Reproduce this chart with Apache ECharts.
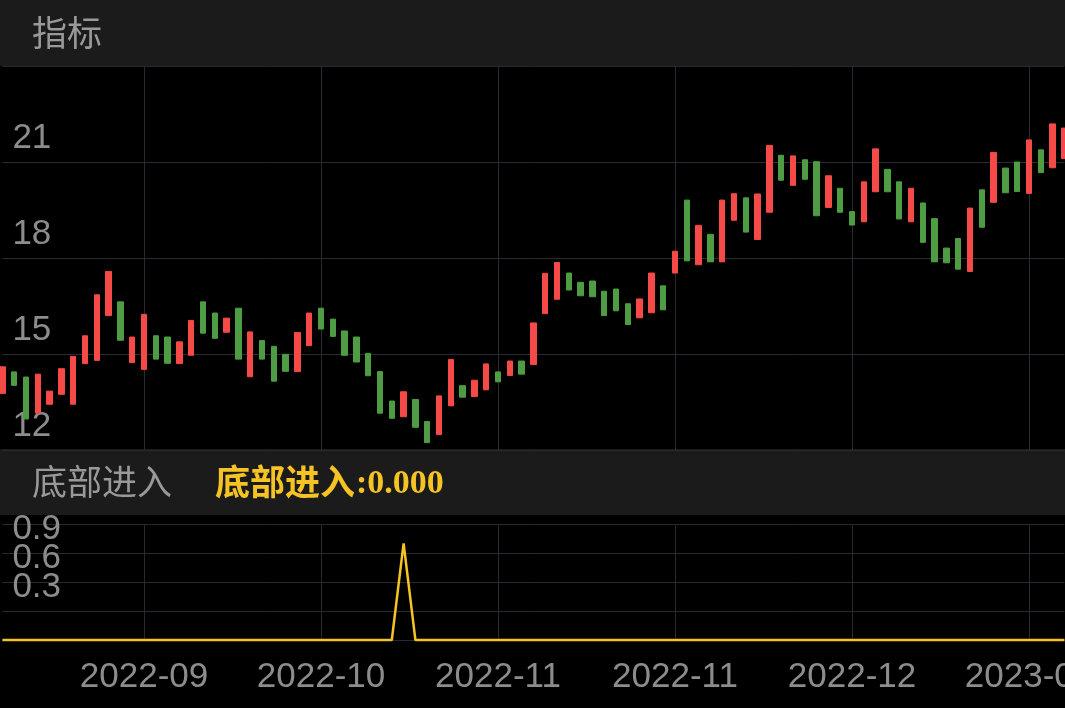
<!DOCTYPE html>
<html><head><meta charset="utf-8">
<script src="https://cdn.jsdelivr.net/npm/echarts@6/dist/echarts.min.js"></script>
<style>html,body{margin:0;padding:0;background:#000;}#c{width:1065px;height:708px;}</style>
</head><body><div id="c"></div>
<script>
const dates = [
'2022-09-01','2022-09-02','2022-09-05','2022-09-06','2022-09-07','2022-09-08','2022-09-09','2022-09-13','2022-09-14','2022-09-15',
'2022-09-16','2022-09-19','2022-09-20','2022-09-21','2022-09-22','2022-09-23','2022-09-26','2022-09-27','2022-09-28','2022-09-29',
'2022-09-30','2022-10-10','2022-10-11','2022-10-12','2022-10-13','2022-10-14','2022-10-17','2022-10-18','2022-10-19','2022-10-20',
'2022-10-21','2022-10-24','2022-10-25','2022-10-26','2022-10-27','2022-10-28','2022-10-31','2022-11-01','2022-11-02','2022-11-03',
'2022-11-04','2022-11-07','2022-11-08','2022-11-09','2022-11-10','2022-11-11','2022-11-14','2022-11-15','2022-11-16','2022-11-17',
'2022-11-18','2022-11-21','2022-11-22','2022-11-23','2022-11-24','2022-11-25','2022-11-28','2022-11-29','2022-11-30','2022-12-01',
'2022-12-02','2022-12-05','2022-12-06','2022-12-07','2022-12-08','2022-12-09','2022-12-12','2022-12-13','2022-12-14','2022-12-15',
'2022-12-16','2022-12-19','2022-12-20','2022-12-21','2022-12-22','2022-12-23','2022-12-26','2022-12-27','2022-12-28','2022-12-29',
'2022-12-30','2023-01-03','2023-01-04','2023-01-05','2023-01-06','2023-01-09','2023-01-10','2023-01-11','2023-01-12','2023-01-13',
'2023-01-16'];
const opens = [
13.77,14.44,14.28,13.15,13.43,13.74,13.43,14.70,14.80,16.20,
16.63,14.73,14.52,15.57,15.53,14.70,14.96,16.63,16.28,15.68,
16.43,14.29,15.42,15.24,14.99,14.45,15.26,16.43,16.09,15.72,
15.53,15.02,14.45,13.53,13.04,13.58,12.89,12.48,13.38,14.01,
13.67,13.88,14.44,14.33,14.78,14.67,16.26,16.71,17.53,17.24,
17.28,16.96,17.03,16.57,16.13,16.29,17.13,17.53,19.81,17.79,
18.74,17.88,19.18,19.88,18.58,19.43,21.21,20.27,21.07,21.01,
19.58,20.18,19.45,19.13,20.07,20.77,20.38,19.13,19.72,19.23,
18.31,18.61,17.58,20.13,19.74,20.81,21.00,20.02,21.38,20.82,
21.11];
const closes = [
14.60,14.02,12.97,14.37,13.84,14.54,14.92,15.57,16.85,17.58,
15.43,15.53,16.24,14.84,14.71,15.38,16.05,15.65,15.49,16.12,
14.84,15.69,14.84,14.15,14.46,15.67,16.28,15.78,15.55,14.96,
14.75,14.32,13.15,12.99,13.82,12.71,12.23,13.69,14.83,13.65,
14.18,14.69,14.13,14.78,14.37,15.97,17.52,17.86,17.00,16.82,
16.79,16.20,16.35,15.92,16.72,17.53,16.38,18.21,17.91,19.02,
17.88,19.81,20.01,18.81,20.00,21.52,20.43,21.19,20.46,19.32,
20.57,19.43,19.03,20.38,21.41,20.07,19.22,20.18,18.49,17.88,
17.85,17.65,19.56,18.96,21.30,20.04,20.08,21.69,20.67,22.19,
22.06];
const signal = [
0,0,0,0,0,0,0,0,0,0,
0,0,0,0,0,0,0,0,0,0,
0,0,0,0,0,0,0,0,0,0,
0,0,0,0,1,0,0,0,0,0,
0,0,0,0,0,0,0,0,0,0,
0,0,0,0,0,0,0,0,0,0,
0,0,0,0,0,0,0,0,0,0,
0,0,0,0,0,0,0,0,0,0,
0,0,0,0,0,0,0,0,0,0,
0];
const priceAxis = {min: 12, max: 24, interval: 3};
const signalAxis = {min: 0, max: 1.2, interval: 0.3};
const panelTitle = '指标';
const signalName = '底部进入';
const signalValueText = ':0.000';

const candles = opens.map((o, i) => [o, closes[i], Math.min(o, closes[i]), Math.max(o, closes[i])]);
const tickEvery = (idx) => (idx - 12) % 15 === 0;
const gridColor = '#2a2930';
const labelColor = '#8c8c8c';
const labelFont = '"Liberation Sans", Arial, Helvetica, sans-serif';

const chart = echarts.init(document.getElementById('c'), null, {renderer: 'canvas'});
chart.setOption({
  animation: false,
  backgroundColor: '#000',
  grid: [
    {left: 2.4, right: 0.6, top: 66, height: 384, outerBoundsMode: 'none', containLabel: false},
    {left: 2.4, right: 0.6, top: 524, height: 116, outerBoundsMode: 'none', containLabel: false}
  ],
  xAxis: [
    {type: 'category', gridIndex: 0, data: dates, boundaryGap: false,
     axisLine: {show: false}, axisTick: {show: false}, axisLabel: {show: false},
     splitLine: {show: true, interval: tickEvery, lineStyle: {color: gridColor, width: 1}}},
    {type: 'category', gridIndex: 1, data: dates, boundaryGap: false,
     axisLine: {show: false}, axisTick: {show: false},
     axisLabel: {show: true, interval: tickEvery, formatter: v => v.slice(0, 7), hideOverlap: false,
       color: labelColor, fontSize: 35, fontFamily: labelFont, margin: 20},
     splitLine: {show: true, interval: tickEvery, lineStyle: {color: gridColor, width: 1}}}
  ],
  yAxis: [
    {type: 'value', gridIndex: 0, min: priceAxis.min, max: priceAxis.max, interval: priceAxis.interval,
     axisLine: {show: false}, axisTick: {show: false},
     axisLabel: {inside: true, showMaxLabel: false, showMinLabel: true, verticalAlign: 'bottom',
       color: labelColor, fontSize: 35, fontFamily: labelFont, margin: 10, padding: [0,0,6,0]},
     splitLine: {lineStyle: {color: gridColor, width: 1}}},
    {type: 'value', gridIndex: 1, min: signalAxis.min, max: signalAxis.max, interval: signalAxis.interval,
     axisLine: {show: false}, axisTick: {show: false},
     axisLabel: {inside: true, showMaxLabel: false, showMinLabel: false, verticalAlign: 'bottom',
       formatter: v => v.toFixed(1),
       color: labelColor, fontSize: 35, fontFamily: labelFont, margin: 10, padding: [0,0,6,0]},
     splitLine: {lineStyle: {color: gridColor, width: 1}}}
  ],
  graphic: [
    {type: 'rect', z: 0, shape: {x: 0, y: 0, width: 1065, height: 66}, style: {fill: '#1b1b1b'}},
    {type: 'rect', z: 0, shape: {x: 0, y: 449, width: 1065, height: 66}, style: {fill: '#1b1b1b'}},
    {type: 'text', z: 10, x: 32, y: 33, style: {text: panelTitle, fill: '#999999',
      font: '35px "Noto Sans CJK SC"', verticalAlign: 'middle', align: 'left'}},
    {type: 'text', z: 10, x: 32, y: 482, style: {text: signalName, fill: '#999999',
      font: '35px "Noto Sans CJK SC"', verticalAlign: 'middle', align: 'left'}},
    {type: 'text', z: 10, x: 215, y: 482, style: {text: signalName, fill: '#f6c324',
      font: 'bold 35px "Noto Sans CJK SC"', verticalAlign: 'middle', align: 'left'}},
    {type: 'text', z: 10, x: 356, y: 484, style: {text: signalValueText, fill: '#f6c324',
      font: 'bold 34px "Liberation Serif", "Times New Roman", serif', verticalAlign: 'middle', align: 'left'}}
  ],
  series: [
    {type: 'candlestick', xAxisIndex: 0, yAxisIndex: 0, data: candles, barWidth: 6, clip: false,
     itemStyle: {color: '#f64a48', color0: '#4e9d44', borderColor: '#f64a48', borderColor0: '#4e9d44', borderWidth: 1}},
    {type: 'line', xAxisIndex: 1, yAxisIndex: 1, data: signal, showSymbol: false, clip: false,
     lineStyle: {color: '#f6c324', width: 2.5}, z: 5}
  ]
});
</script>
</body></html>
